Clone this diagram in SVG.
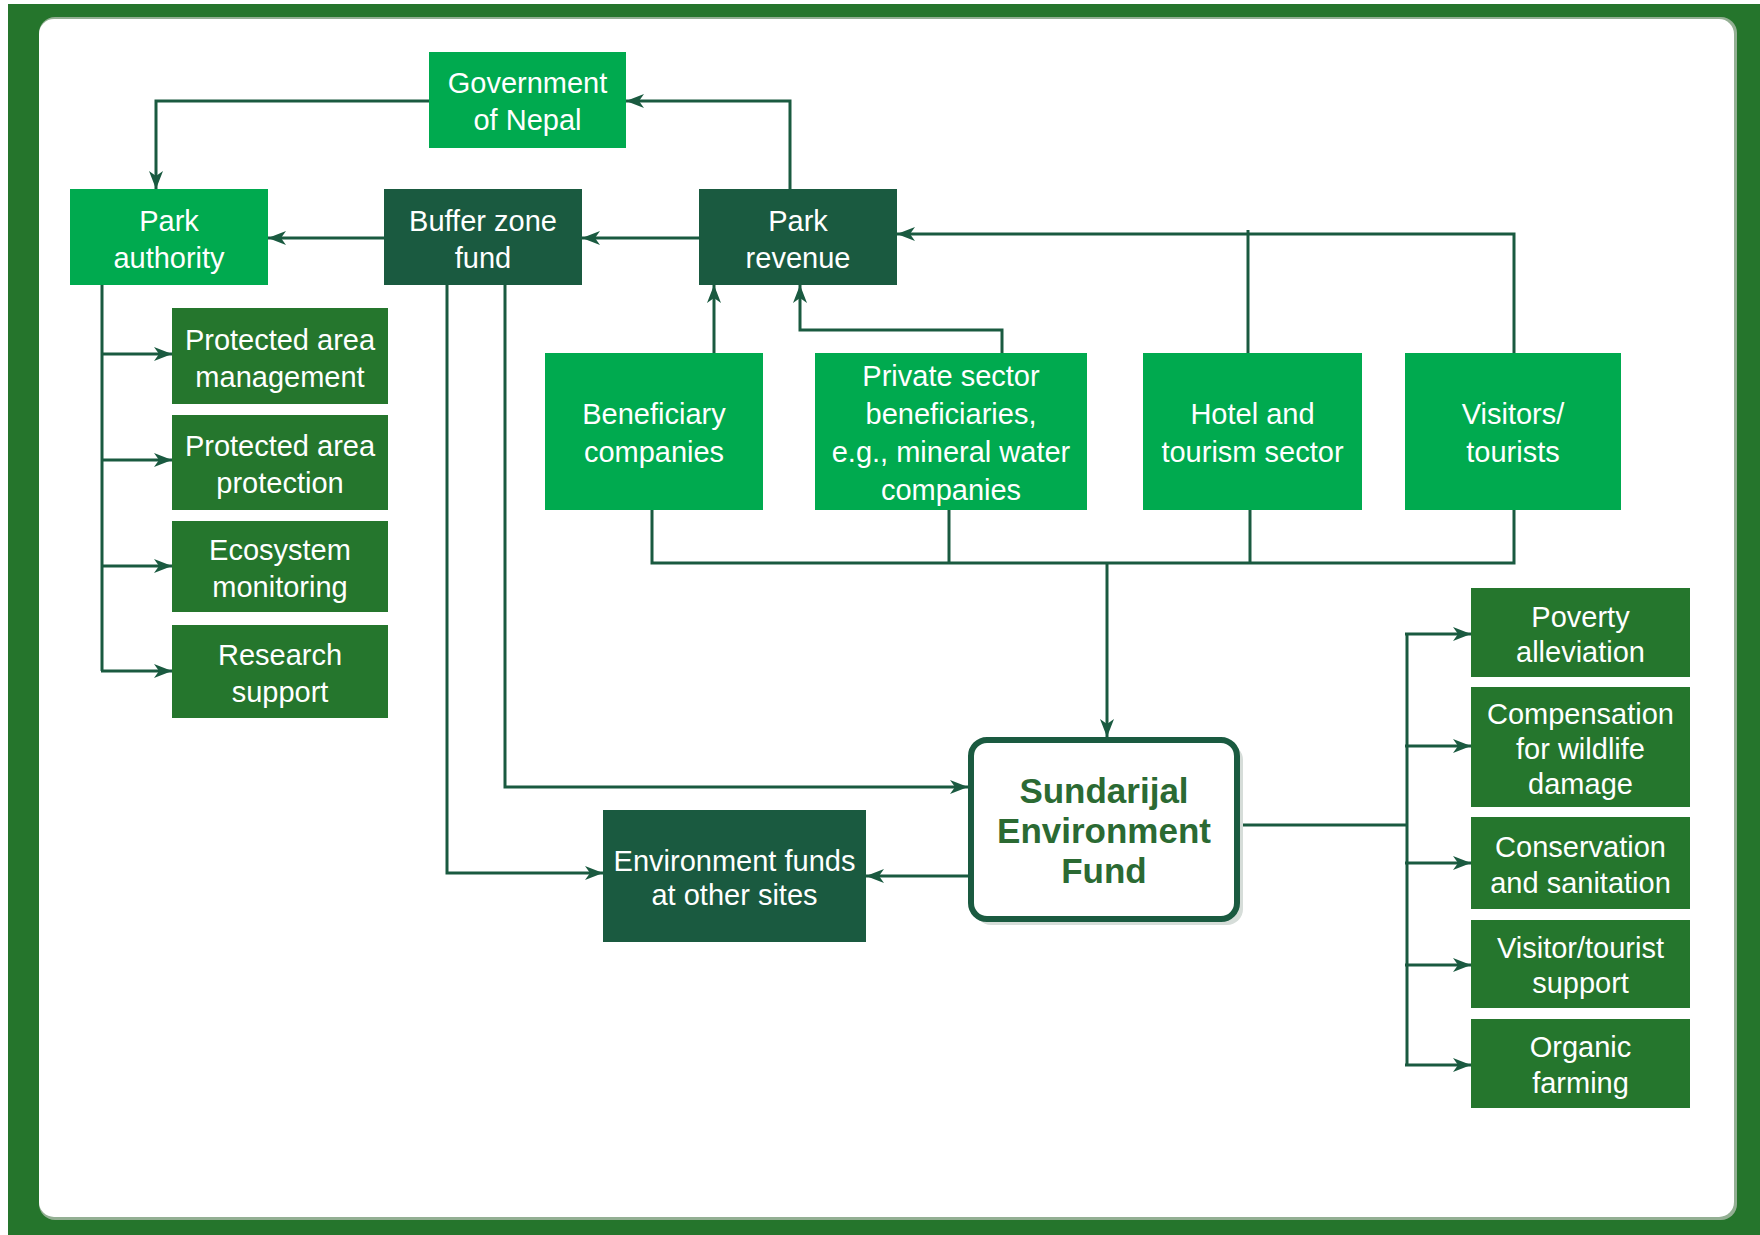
<svg xmlns="http://www.w3.org/2000/svg" width="1760" height="1235" viewBox="0 0 1760 1235">
<style>
.bright{fill:#00AA4F}
.dark{fill:#1A5A40}
.mid{fill:#25762D}
.t{font-family:"Liberation Sans",Arial,sans-serif;font-size:29px;fill:#FFFFFF;text-anchor:middle}
.big{font-family:"Liberation Sans",Arial,sans-serif;font-size:35px;font-weight:bold;fill:#2B6A33;text-anchor:middle}
.c{fill:none;stroke:#1A5A40;stroke-width:3}
</style>
<defs>
<marker id="ah" markerUnits="userSpaceOnUse" markerWidth="20" markerHeight="16" refX="18" refY="8" orient="auto">
<path d="M0,1 L18,8 L0,15 L5,8 z" fill="#1A5A40"/>
</marker>
</defs>
<rect x="0" y="0" width="1760" height="1235" fill="#FFFFFF"/>
<rect x="8" y="4" width="1752" height="1231" fill="#25752C"/>
<rect x="39" y="17" width="1698" height="1203" rx="16" fill="#93AF93"/>
<rect x="39" y="19" width="1695" height="1198" rx="15" fill="#FFFFFF"/>

<g id="connectors">
<path class="c" d="M429,101 H156 V189" marker-end="url(#ah)"/>
<path class="c" d="M790,189 V101 H626" marker-end="url(#ah)"/>
<path class="c" d="M384,238 H268" marker-end="url(#ah)"/>
<path class="c" d="M699,238 H582" marker-end="url(#ah)"/>
<path class="c" d="M102,285 V671"/>
<path class="c" d="M101,354 H172" marker-end="url(#ah)"/>
<path class="c" d="M101,460 H172" marker-end="url(#ah)"/>
<path class="c" d="M101,566 H172" marker-end="url(#ah)"/>
<path class="c" d="M101,671 H172" marker-end="url(#ah)"/>
<path class="c" d="M714,353 V285" marker-end="url(#ah)"/>
<path class="c" d="M1002,353 V330 H800 V285" marker-end="url(#ah)"/>
<path class="c" d="M1514,353 V234 H897" marker-end="url(#ah)"/>
<path class="c" d="M1248,353 V230"/>
<path class="c" d="M652,510 V563 H1514 V510"/>
<path class="c" d="M949,510 V563"/>
<path class="c" d="M1250,510 V563"/>
<path class="c" d="M1107,563 V737" marker-end="url(#ah)"/>
<path class="c" d="M505,285 V787 H968" marker-end="url(#ah)"/>
<path class="c" d="M447,285 V873 H603" marker-end="url(#ah)"/>
<path class="c" d="M968,876 H866" marker-end="url(#ah)"/>
<path class="c" d="M1240,825 H1407"/>
<path class="c" d="M1407,634 V1065"/>
<path class="c" d="M1405,634 H1471" marker-end="url(#ah)"/>
<path class="c" d="M1405,746 H1471" marker-end="url(#ah)"/>
<path class="c" d="M1405,863 H1471" marker-end="url(#ah)"/>
<path class="c" d="M1405,965 H1471" marker-end="url(#ah)"/>
<path class="c" d="M1405,1065 H1471" marker-end="url(#ah)"/>
</g>

<g id="government">
<rect class="bright" x="429" y="52" width="197" height="96"/>
<text class="t" x="527.5" y="93">Government</text>
<text class="t" x="527.5" y="130">of Nepal</text>
</g>
<g id="park-authority">
<rect class="bright" x="70" y="189" width="198" height="96"/>
<text class="t" x="169" y="231">Park</text>
<text class="t" x="169" y="268">authority</text>
</g>
<g id="buffer-zone-fund">
<rect class="dark" x="384" y="189" width="198" height="96"/>
<text class="t" x="483" y="231">Buffer zone</text>
<text class="t" x="483" y="268">fund</text>
</g>
<g id="park-revenue">
<rect class="dark" x="699" y="189" width="198" height="96"/>
<text class="t" x="798" y="231">Park</text>
<text class="t" x="798" y="268">revenue</text>
</g>

<g id="pa-management">
<rect class="mid" x="172" y="308" width="216" height="96"/>
<text class="t" x="280" y="350">Protected area</text>
<text class="t" x="280" y="387">management</text>
</g>
<g id="pa-protection">
<rect class="mid" x="172" y="415" width="216" height="95"/>
<text class="t" x="280" y="456">Protected area</text>
<text class="t" x="280" y="493">protection</text>
</g>
<g id="ecosystem-monitoring">
<rect class="mid" x="172" y="521" width="216" height="91"/>
<text class="t" x="280" y="560">Ecosystem</text>
<text class="t" x="280" y="597">monitoring</text>
</g>
<g id="research-support">
<rect class="mid" x="172" y="625" width="216" height="93"/>
<text class="t" x="280" y="665">Research</text>
<text class="t" x="280" y="702">support</text>
</g>

<g id="beneficiary-companies">
<rect class="bright" x="545" y="353" width="218" height="157"/>
<text class="t" x="654" y="424">Beneficiary</text>
<text class="t" x="654" y="462">companies</text>
</g>
<g id="private-sector">
<rect class="bright" x="815" y="353" width="272" height="157"/>
<text class="t" x="951" y="386">Private sector</text>
<text class="t" x="951" y="424">beneficiaries,</text>
<text class="t" x="951" y="462">e.g., mineral water</text>
<text class="t" x="951" y="500">companies</text>
</g>
<g id="hotel-tourism">
<rect class="bright" x="1143" y="353" width="219" height="157"/>
<text class="t" x="1252.5" y="424">Hotel and</text>
<text class="t" x="1252.5" y="462">tourism sector</text>
</g>
<g id="visitors-tourists">
<rect class="bright" x="1405" y="353" width="216" height="157"/>
<text class="t" x="1513" y="424">Visitors/</text>
<text class="t" x="1513" y="462">tourists</text>
</g>

<g id="sundarijal-fund">
<rect x="975" y="744" width="268" height="181" rx="16" fill="#D6DDD9"/>
<rect x="971" y="740" width="266" height="179" rx="16" fill="#FFFFFF" stroke="#1A5A40" stroke-width="6"/>
<text class="big" x="1104" y="803">Sundarijal</text>
<text class="big" x="1104" y="843">Environment</text>
<text class="big" x="1104" y="883">Fund</text>
</g>
<g id="environment-funds-other-sites">
<rect class="dark" x="603" y="810" width="263" height="132"/>
<text class="t" x="734.5" y="871">Environment funds</text>
<text class="t" x="734.5" y="905">at other sites</text>
</g>

<g id="poverty-alleviation">
<rect class="mid" x="1471" y="588" width="219" height="89"/>
<text class="t" x="1580.5" y="627">Poverty</text>
<text class="t" x="1580.5" y="662">alleviation</text>
</g>
<g id="compensation">
<rect class="mid" x="1471" y="687" width="219" height="120"/>
<text class="t" x="1580.5" y="724">Compensation</text>
<text class="t" x="1580.5" y="759">for wildlife</text>
<text class="t" x="1580.5" y="794">damage</text>
</g>
<g id="conservation-sanitation">
<rect class="mid" x="1471" y="817" width="219" height="92"/>
<text class="t" x="1580.5" y="857">Conservation</text>
<text class="t" x="1580.5" y="893">and sanitation</text>
</g>
<g id="visitor-tourist-support">
<rect class="mid" x="1471" y="920" width="219" height="88"/>
<text class="t" x="1580.5" y="958">Visitor/tourist</text>
<text class="t" x="1580.5" y="993">support</text>
</g>
<g id="organic-farming">
<rect class="mid" x="1471" y="1019" width="219" height="89"/>
<text class="t" x="1580.5" y="1057">Organic</text>
<text class="t" x="1580.5" y="1093">farming</text>
</g>
</svg>
